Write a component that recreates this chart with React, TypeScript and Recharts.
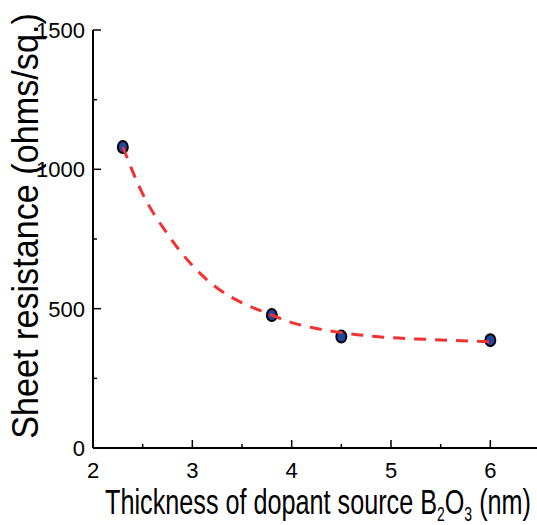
import { ComposedChart, Scatter, Line, XAxis, YAxis, Label } from "recharts";

// measured samples
const SAMPLE_X = [2.3, 3.8, 4.5, 6.0];
const SAMPLE_Y = [1080, 477, 400, 387];

// dashed fit curve
const FIT_X = [2.3, 2.5, 2.75, 3, 3.25, 3.5, 3.75, 4, 4.25, 4.5, 5, 5.5, 6];
const FIT_Y = [1080, 912, 768, 655, 574, 521, 484, 450, 429, 414, 396, 388, 381];

const X_TICKS = [2, 2.5, 3, 3.5, 4, 4.5, 5, 5.5, 6, 6.5];
const Y_TICKS = [0, 250, 500, 750, 1000, 1250, 1500];

const samples = SAMPLE_X.map((x, i) => ({ x, y: SAMPLE_Y[i] }));
const fit = FIT_X.map((x, i) => ({ x, y: FIT_Y[i] }));

const TICK_FONT = "'Liberation Sans Narrow', 'Liberation Sans', Arial, sans-serif";
const LABEL_FONT = "'Liberation Sans', Arial, sans-serif";

const BottomTick = (p: any) => {
  const v = p.payload.value;
  const major = Number.isInteger(v);
  return (
    <g>
      <line x1={p.x} x2={p.x} y1={p.y} y2={p.y - (major ? 8 : 4)} stroke="#000" strokeWidth={1.5} />
      {major && v <= 6 && (
        <text x={p.x} y={p.y + 30} textAnchor="middle" fontSize={22} fontFamily={TICK_FONT} fill="#000">
          {v}
        </text>
      )}
    </g>
  );
};

const TopTick = (p: any) => {
  const major = Number.isInteger(p.payload.value);
  return <line x1={p.x} x2={p.x} y1={p.y} y2={p.y + (major ? 8 : 4)} stroke="#000" strokeWidth={1.5} />;
};

const LeftTick = (p: any) => {
  const v = p.payload.value;
  const major = v % 500 === 0;
  return (
    <g>
      <line x1={p.x} x2={p.x + (major ? 8 : 4)} y1={p.y} y2={p.y} stroke="#000" strokeWidth={1.5} />
      {major && (
        <text x={p.x - 8} y={p.y + 8} textAnchor="end" fontSize={22} fontFamily={TICK_FONT} fill="#000">
          {v}
        </text>
      )}
    </g>
  );
};

const RightTick = (p: any) => {
  const major = p.payload.value % 500 === 0;
  return <line x1={p.x} x2={p.x - (major ? 8 : 4)} y1={p.y} y2={p.y} stroke="#000" strokeWidth={1.5} />;
};

const Dot = (p: any) => (
  <ellipse cx={p.cx} cy={p.cy} rx={5} ry={6} fill="#1f45a3" stroke="#000" strokeWidth={2} />
);

const XTitle = () => (
  <g transform="translate(318,514) scale(0.7,1)">
    <text textAnchor="middle" fontSize={36} fontFamily={LABEL_FONT} fill="#000">
      Thickness of dopant source B
      <tspan fontSize={20} dy={7}>2</tspan>
      <tspan dy={-7}>O</tspan>
      <tspan fontSize={20} dy={7}>3</tspan>
      <tspan dy={-7}> (nm)</tspan>
    </text>
  </g>
);

const YTitle = () => (
  <g transform="translate(38,226) rotate(-90) scale(0.95,1)">
    <text x={0} y={0} textAnchor="middle" fontSize={36} fontFamily={LABEL_FONT} fill="#000">
      Sheet resistance (ohms/sq.)
    </text>
  </g>
);

export default function App() {
  return (
    <div style={{ position: "absolute", left: 0, top: 0, width: 537, height: 525, overflow: "hidden", background: "#fff" }}>
      <ComposedChart width={560} height={525} margin={{ top: 30, right: 20, bottom: 0, left: 0 }}>
        <XAxis
          dataKey="x"
          type="number"
          domain={[2, 6.5]}
          ticks={X_TICKS}
          interval={0}
          height={77}
          tickSize={0}
          tickMargin={0}
          tickLine={false}
          tick={<BottomTick />}
          axisLine={{ stroke: "#000", strokeWidth: 2 }}
        >
          <Label content={<XTitle />} />
        </XAxis>
        <XAxis
          xAxisId="top"
          orientation="top"
          dataKey="x"
          type="number"
          domain={[2, 6.5]}
          ticks={X_TICKS}
          interval={0}
          height={0}
          tickSize={0}
          tickMargin={0}
          tickLine={false}
          tick={<TopTick />}
          axisLine={{ stroke: "#000", strokeWidth: 2 }}
        />
        <YAxis
          type="number"
          domain={[0, 1500]}
          ticks={Y_TICKS}
          interval={0}
          width={93}
          tickSize={0}
          tickMargin={0}
          tickLine={false}
          tick={<LeftTick />}
          axisLine={{ stroke: "#000", strokeWidth: 2 }}
        >
          <Label content={<YTitle />} />
        </YAxis>
        <YAxis
          yAxisId="right"
          orientation="right"
          type="number"
          domain={[0, 1500]}
          ticks={Y_TICKS}
          interval={0}
          width={0}
          tickSize={0}
          tickMargin={0}
          tickLine={false}
          tick={<RightTick />}
          axisLine={{ stroke: "#000", strokeWidth: 2 }}
        />
        <Scatter data={samples} dataKey="y" shape={<Dot />} isAnimationActive={false} />
        <Line
          data={fit}
          dataKey="y"
          type="monotone"
          stroke="#f23131"
          strokeWidth={3}
          strokeDasharray="12 9"
          dot={false}
          activeDot={false}
          isAnimationActive={false}
          zIndex={700}
        />
      </ComposedChart>
    </div>
  );
}
